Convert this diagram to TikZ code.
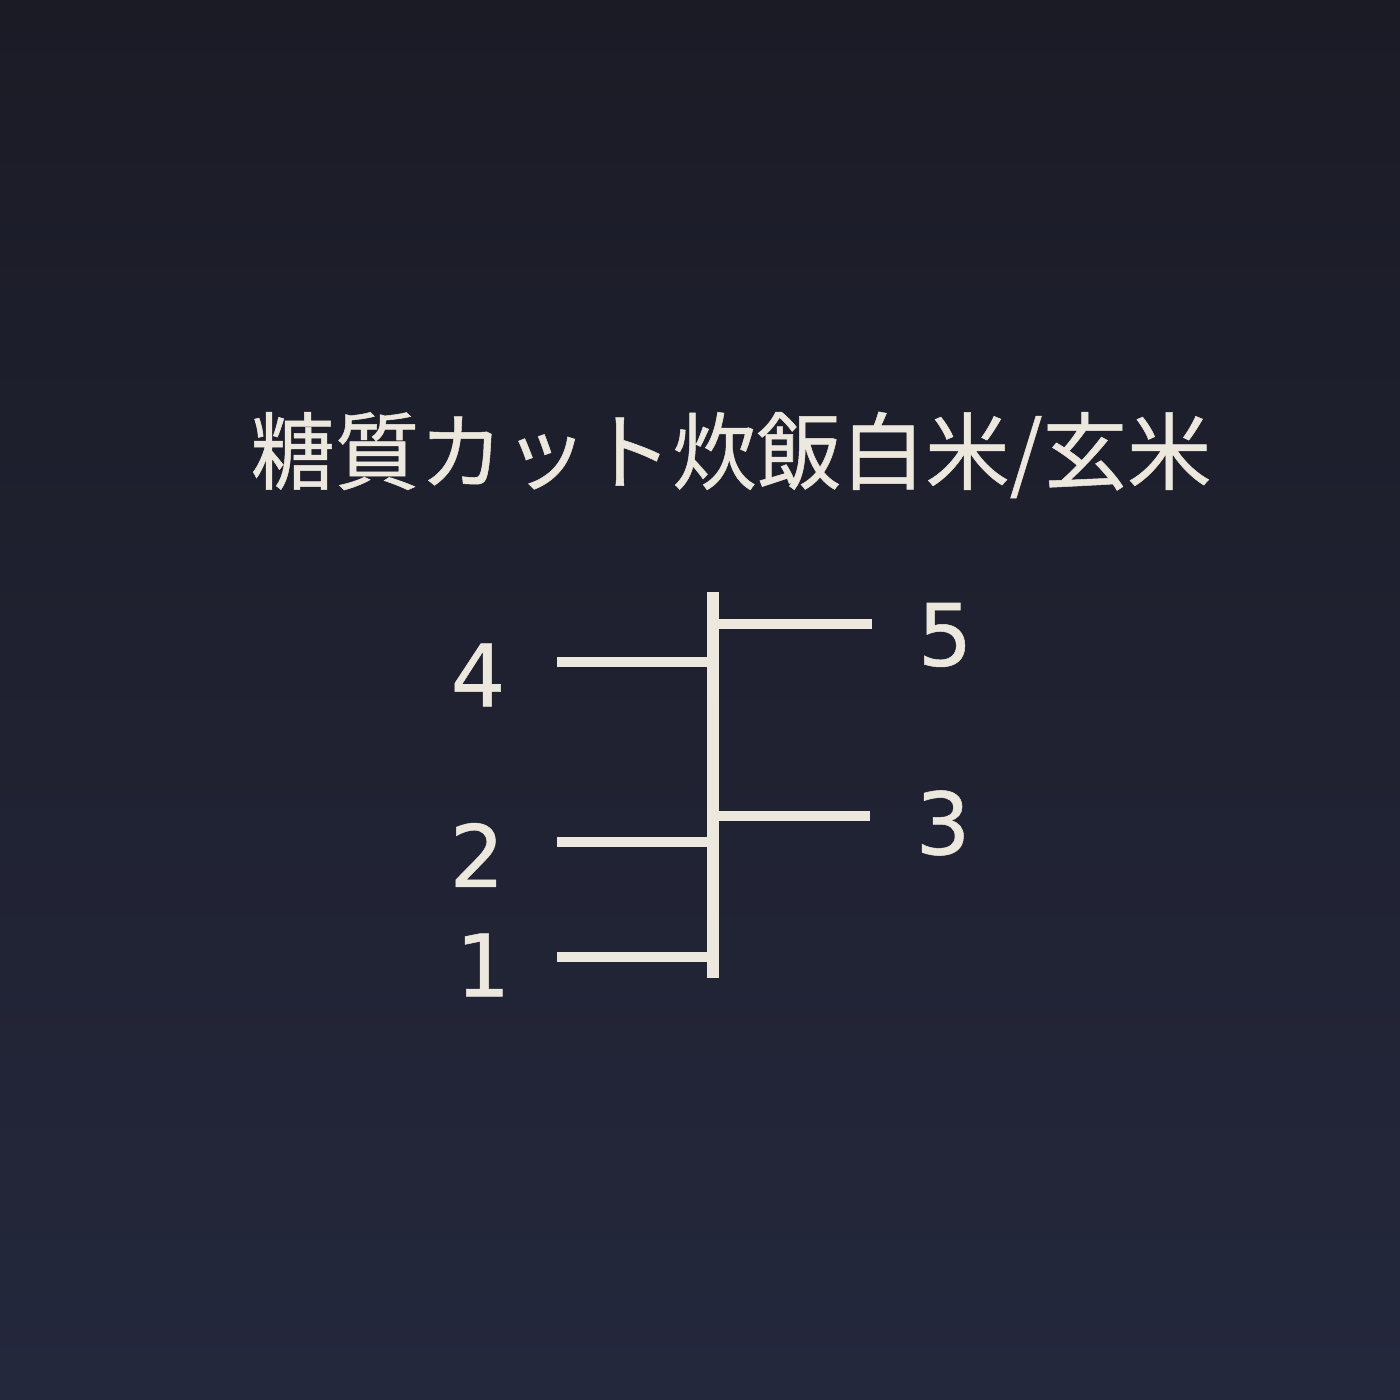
\documentclass[tikz,border=0pt]{standalone}
\usepackage{fontspec}
\newfontfamily\jpfont[FakeBold=0.6]{Noto Sans CJK JP}
\newfontfamily\digitfont[FakeBold=0.6]{DejaVu Sans}
\definecolor{bgtop}{RGB}{27,27,38}
\definecolor{bgmid}{RGB}{22,22,32}
\definecolor{bgbot}{RGB}{36,40,60}
\definecolor{ink}{RGB}{236,232,222}
\tikzset{
  mark label/.style={text=ink, inner sep=0pt, font=\digitfont\fontsize{24.5}{26}\selectfont},
  tick line/.style={draw=ink, line width=3.1pt},
}
\begin{document}
\begin{tikzpicture}
\shade[top color=bgtop, middle color=bgmid, bottom color=bgbot] (0,0) rectangle (14,14);
\useasboundingbox (0,0) rectangle (14,14);

\node[text=ink, inner sep=0pt, font=\jpfont\fontsize{24}{26}\selectfont] (title) at (7.31,9.45){糖質カット炊飯白米/玄米};

\coordinate (top) at (7.13,8.08);
\coordinate (bot) at (7.13,4.22);
\draw[draw=ink, line width=3.4pt](top) -- (bot);

\coordinate (b5) at (7.13,7.76);
\coordinate (e5) at (8.72,7.76);
\node[mark label] (n5) at (9.45,7.65){5};

\coordinate (b4) at (7.13,7.38);
\coordinate (e4) at (5.57,7.38);
\node[mark label] (n4) at (4.78,7.25){4};

\coordinate (b3) at (7.13,5.84);
\coordinate (e3) at (8.70,5.84);
\node[mark label] (n3) at (9.43,5.77){3};

\coordinate (b2) at (7.13,5.58);
\coordinate (e2) at (5.57,5.58);
\node[mark label] (n2) at (4.77,5.45){2};

\coordinate (b1) at (7.13,4.43);
\coordinate (e1) at (5.57,4.43);
\node[mark label] (n1) at (4.83,4.35){1};

\draw[tick line](b5) -- (e5);
\draw[tick line](b4) -- (e4);
\draw[tick line](b3) -- (e3);
\draw[tick line](b2) -- (e2);
\draw[tick line](b1) -- (e1);

\end{tikzpicture}
\end{document}
